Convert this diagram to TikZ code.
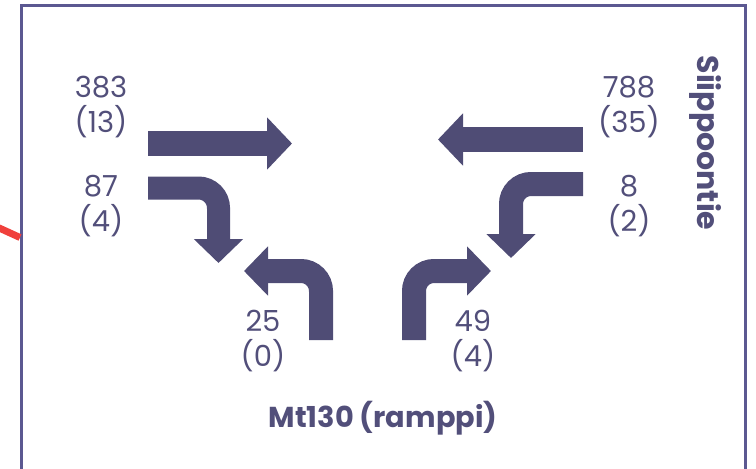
\documentclass[tikz,border=0pt]{standalone}
\usepackage{fontspec}
\setmainfont{Poppins}
\usetikzlibrary{arrows.meta}
\definecolor{flow}{HTML}{4F4C75}
\definecolor{frame}{HTML}{5B5891}
\definecolor{txt}{HTML}{524F7A}
\definecolor{redline}{HTML}{F0403C}
\tikzset{
  count/.style={text=txt, font=\fontsize{29}{35}\selectfont, align=center, inner sep=0pt},
  road/.style={text=txt, font=\fontsize{28.8}{32}\selectfont\bfseries, inner sep=0pt},
  flowarrow/.style={draw=flow, line width=24pt, rounded corners=20pt,
    -{Triangle[length=24pt,width=48pt]}},
  bigarrow/.style={draw=flow, line width=25pt,
    -{Triangle[length=25pt,width=51pt]}}
}
\begin{document}
\begin{tikzpicture}[x=1pt,y=-1pt]
\useasboundingbox (0,0) rectangle (756,469);
% outer frame, open at the bottom
\draw[frame, line width=3pt] (21,480) -- (21,5) -- (745,5) -- (745,480);
% red stub entering from the left
\coordinate (r1) at (-3,227);
\coordinate (r2) at (20,237.5);
\draw[redline, line width=7pt] (r1) -- (r2);

% approach from the left
\coordinate (a1s) at (148,143.5);
\coordinate (a1e) at (292,143.5);
\draw[bigarrow] (a1s) -- (a1e);
\coordinate (a2s) at (148,188);
\coordinate (a2e) at (218.5,263);
\draw[flowarrow, line width=23pt] (a2s) -| (a2e);

% approach from the right
\coordinate (b1s) at (583,139.5);
\coordinate (b1e) at (438,139.5);
\draw[bigarrow] (b1s) -- (b1e);
\coordinate (b2s) at (583,184);
\coordinate (b2e) at (511,258);
\draw[flowarrow] (b2s) -| (b2e);

% approach from the ramp
\coordinate (c1s) at (321,340);
\coordinate (c1e) at (244,271);
\draw[flowarrow] (c1s) |- (c1e);
\coordinate (c2s) at (414,340);
\coordinate (c2e) at (491,271);
\draw[flowarrow] (c2s) |- (c2e);

% volumes
\node[count] (n383) at (101,107) {383\\(13)};
\node[count] (n87) at (101,206) {87\\(4)};
\node[count] (n788) at (629,107) {788\\(35)};
\node[count] (n8) at (629,206) {8\\(2)};
\node[count] (n25) at (263,341) {25\\(0)};
\node[count] (n49) at (473,341) {49\\(4)};

% road names
\node[road] (ramp) at (383,418) {Mt130 (ramppi)};
\node[road, font=\fontsize{30}{32}\selectfont\bfseries, rotate=-90] (siip) at (706,143) {Siippoontie};
\end{tikzpicture}
\end{document}
